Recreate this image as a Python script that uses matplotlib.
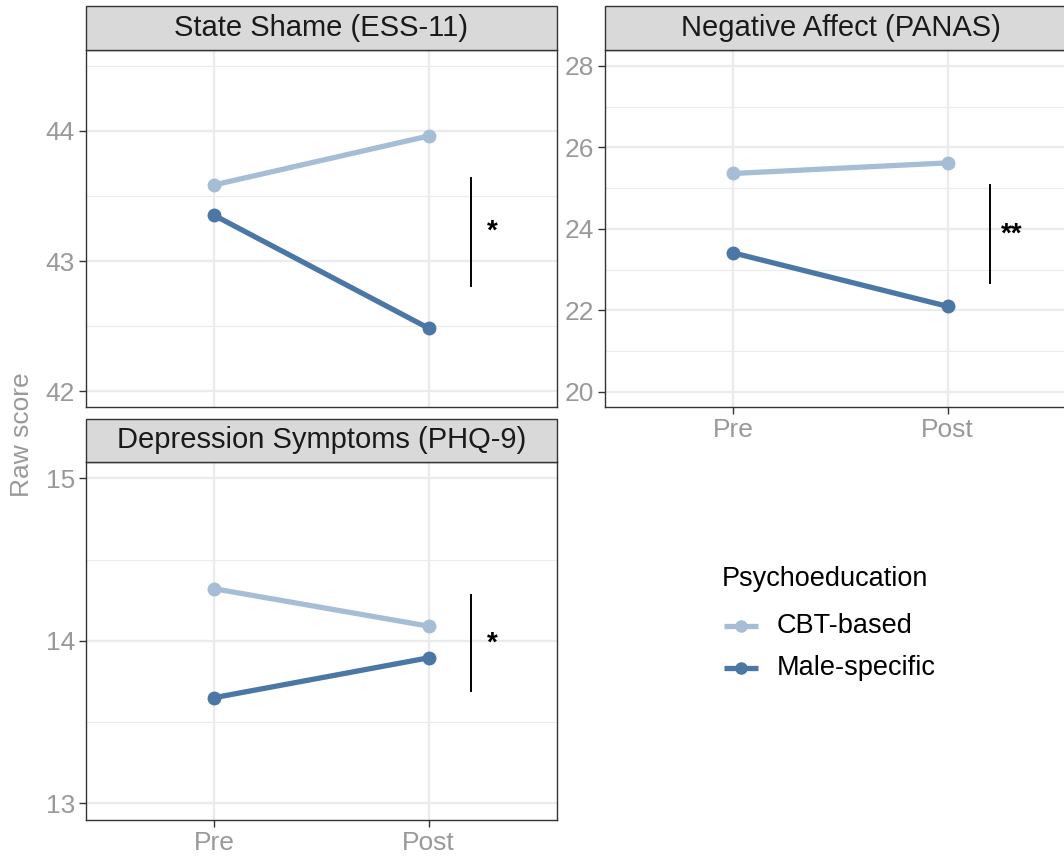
import matplotlib
matplotlib.use("Agg")
import matplotlib.pyplot as plt
from matplotlib.patches import Rectangle
from matplotlib.lines import Line2D

plt.rcParams['font.family'] = ['Liberation Sans', 'DejaVu Sans']

# Data
times = ["Pre", "Post"]
groups = ["CBT-based", "Male-specific"]
colors = {"CBT-based": "#A6BDD6", "Male-specific": "#4A77A5"}

shame_cbt = [43.585, 43.96]
shame_male = [43.35, 42.485]
panas_cbt = [25.36, 25.62]
panas_male = [23.41, 22.10]
phq_cbt = [14.32, 14.09]
phq_male = [13.65, 13.895]

titles = ["State Shame (ESS-11)", "Negative Affect (PANAS)", "Depression Symptoms (PHQ-9)"]
sig_labels = ["*", "**", "*"]
sig_ranges = [(42.81, 43.64), (22.67, 25.07), (13.69, 14.28)]
y_ticks = [[42, 43, 44], [20, 22, 24, 26, 28], [13, 14, 15]]
y_minor = [[42.5, 43.5, 44.5], [21, 23, 25, 27], [13.5, 14.5]]
y_limits = [(41.88, 44.62), (19.63, 28.39), (12.897, 15.10)]

W, H = 1064, 857
fig = plt.figure(figsize=(W / 100, H / 100), dpi=100)

GRID = "#EBEBEB"
BORDER = "#333333"
TICKC = "#999999"


def px_axes(left, top, right, bottom):
    return fig.add_axes([left / W, 1 - bottom / H, (right - left) / W, (bottom - top) / H])


panels = [
    (px_axes(86, 50, 557, 407), 44, False),
    (px_axes(605, 50, 1076, 407), 44, True),
    (px_axes(86, 462, 557, 820), 43, True),
]
series = [(shame_cbt, shame_male), (panas_cbt, panas_male), (phq_cbt, phq_male)]

for i, (ax, strip_h, show_x) in enumerate(panels):
    cbt, male = series[i]
    xs = [1, 2]
    ax.set_xlim(0.4, 2.6)
    ax.set_ylim(*y_limits[i])
    ax.set_facecolor("white")
    for y in y_minor[i]:
        ax.axhline(y, color=GRID, lw=0.8, zorder=0)
    for y in y_ticks[i]:
        ax.axhline(y, color=GRID, lw=1.6, zorder=0)
    for x in xs:
        ax.axvline(x, color=GRID, lw=1.6, zorder=0)

    for vals, g in ((cbt, "CBT-based"), (male, "Male-specific")):
        ax.plot(xs, vals, color=colors[g], lw=3.8, marker="o", ms=9,
                solid_capstyle="butt", zorder=3)

    lo, hi = sig_ranges[i]
    ax.plot([2.2, 2.2], [lo, hi], color="black", lw=1.4, zorder=3)
    ax.text(2.3, (lo + hi) / 2, sig_labels[i], ha="center", va="center",
            fontsize=20, fontweight="bold", color="black", zorder=4)

    ax.set_yticks(y_ticks[i])
    ax.set_yticklabels([str(t) for t in y_ticks[i]])
    ax.set_xticks(xs)
    if show_x:
        ax.set_xticklabels(times)
        ax.tick_params(axis="x", length=5, width=1.0, color=BORDER,
                       labelsize=19, labelcolor=TICKC, pad=3)
    else:
        ax.set_xticklabels([])
        ax.tick_params(axis="x", length=0)
    ax.tick_params(axis="y", length=5, width=1.0, color=BORDER,
                   labelsize=19, labelcolor=TICKC, pad=3)
    for sp in ax.spines.values():
        sp.set_color(BORDER)
        sp.set_linewidth(1.0)

    # facet strip
    bbox = ax.get_position()
    ph = bbox.height * H
    sh = strip_h / ph
    rect = Rectangle((0, 1), 1, sh, transform=ax.transAxes, clip_on=False,
                     facecolor="#D9D9D9", edgecolor=BORDER, lw=1.0, zorder=5)
    ax.add_patch(rect)
    ax.text(0.5, 1 + sh / 2, titles[i], transform=ax.transAxes, ha="center",
            va="center", fontsize=21, color="#1A1A1A", zorder=6)

fig.text(22 / W, 1 - 435 / H, "Raw score", rotation=90, ha="center", va="center",
         fontsize=19, color=TICKC)

# legend
fig.text(722 / W, 1 - 579 / H, "Psychoeducation", ha="left", va="center",
         fontsize=19.5, color="black")
for j, g in enumerate(groups):
    yy = 1 - (626 + 42 * j) / H
    fig.add_artist(Line2D([724 / W, 758 / W], [yy, yy], color=colors[g], lw=3.8,
                          solid_capstyle="butt", transform=fig.transFigure))
    fig.add_artist(Line2D([741 / W], [yy], color=colors[g], marker="o", ms=8,
                          transform=fig.transFigure))
    fig.text(777 / W, yy, g, ha="left", va="center", fontsize=19.5, color="black")

fig.savefig("out.png", dpi=100, facecolor="white")
